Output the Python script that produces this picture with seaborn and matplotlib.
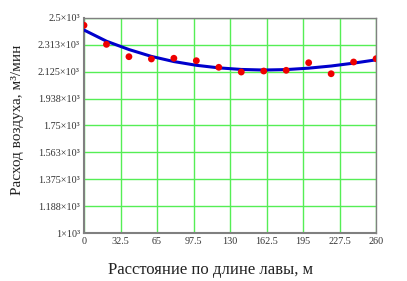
import matplotlib
matplotlib.use("Agg")
import matplotlib.pyplot as plt
import seaborn as sns
import pandas as pd

# Measured points
dist = [0, 20, 40, 60, 80, 100, 120, 140, 160, 180, 200, 220, 240, 260]
flow = [2449, 2316, 2230, 2214, 2219, 2202, 2156, 2123, 2130, 2135, 2188, 2111, 2193, 2216]
# Fitted curve
fit_flow = [2416, 2338, 2280, 2232, 2196, 2170, 2152, 2141, 2137, 2140, 2150, 2165, 2185, 2208]

x_ticks = [0, 32.5, 65, 97.5, 130, 162.5, 195, 227.5, 260]
x_tick_labels = ["0", "32.5", "65", "97.5", "130", "162.5", "195", "227.5", "260"]
y_ticks = [1000, 1187.5, 1375, 1562.5, 1750, 1937.5, 2125, 2312.5, 2500]
y_tick_labels = ["1×10³", "1.188×10³", "1.375×10³", "1.563×10³", "1.75×10³",
                 "1.938×10³", "2.125×10³", "2.313×10³", "2.5×10³"]

x_label = "Расстояние по длине лавы, м"
y_label = "Расход воздуха, м³/мин"

sns.set_theme(style="white")
plt.rcParams['font.family'] = ['Liberation Serif', 'DejaVu Serif']

df_pts = pd.DataFrame({"x": dist, "y": flow})
df_fit = pd.DataFrame({"x": dist, "y": fit_flow})

fig = plt.figure(figsize=(4.07, 2.81), dpi=100)
ax = fig.add_axes([0.2064, 0.1708, 0.7176, 0.7652])

sns.lineplot(data=df_fit, x="x", y="y", ax=ax, color="#0000cc", linewidth=2.2, zorder=3)
sns.scatterplot(data=df_pts, x="x", y="y", ax=ax, color="#ee0000", s=24, edgecolor="none", zorder=4)

ax.set_xlim(0, 260)
ax.set_ylim(1000, 2500)
ax.set_xticks(x_ticks)
ax.set_xticklabels(x_tick_labels, fontsize=7.3)
ax.set_yticks(y_ticks)
ax.set_yticklabels(y_tick_labels, fontsize=7.3)
ax.tick_params(axis="both", length=0, pad=3, colors="#333333")
ax.grid(True, color="#55ee55", linewidth=1.0)
ax.set_axisbelow(True)
for side in ["top", "right", "left", "bottom"]:
    ax.spines[side].set_color("#808080")
    ax.spines[side].set_linewidth(1.0)
for side in ["left", "bottom"]:
    ax.spines[side].set_linewidth(1.5)

ax.set_xlabel(x_label, fontsize=12, color="#222222", va="center")
ax.xaxis.set_label_coords(0.435, -0.172)
ax.set_ylabel(y_label, fontsize=11, color="#222222", va="center")
ax.yaxis.set_label_coords(-0.229, 0.525)

fig.savefig("out.png", dpi=100)
